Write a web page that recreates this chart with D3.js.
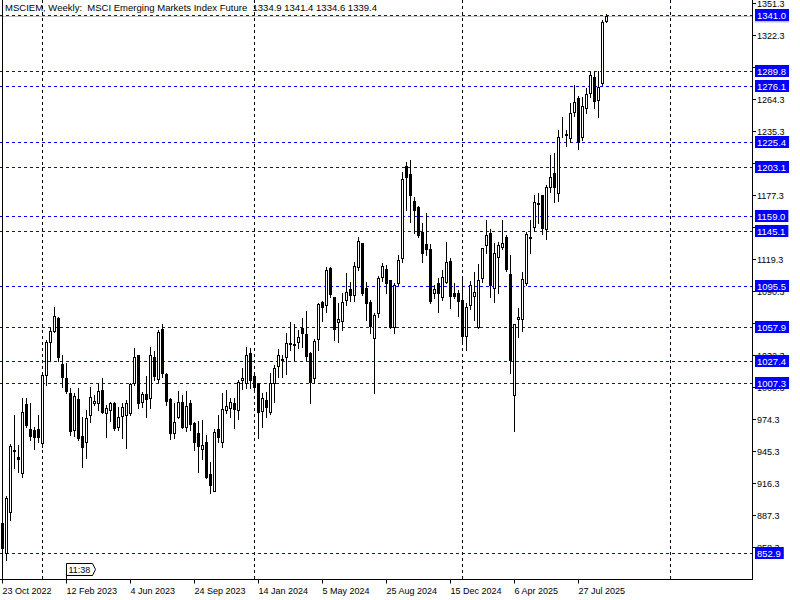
<!DOCTYPE html>
<html><head><meta charset="utf-8">
<script src="https://cdn.jsdelivr.net/npm/d3@7"></script>
<style>
html,body{margin:0;padding:0;background:#fff;}
svg{display:block;}
text{font-family:"Liberation Sans",Arial,sans-serif;}
</style></head>
<body><svg id="c" width="800" height="600"></svg>
<script>
// ---- data (weekly OHLC, MSCI EM futures) ----
const startWeek = "2022-10-23";
const openV = [880.3,853.2,890.6,946.0,939.9,926.0,988.2,965.3,964.7,965.3,952.6,1014.5,1044.7,1054.6,1065.9,1024.5,1011.5,997.9,964.7,992.5,959.2,954.0,978.2,989.4,988.9,1000.9,980.3,982.8,989.4,967.6,977.3,978.2,980.3,1007.0,1032.6,990.3,997.0,993.4,1030.5,1010.6,1055.9,1015.4,992.5,961.7,976.7,990.3,967.6,989.4,970.7,962.2,947.2,953.8,924.8,909.6,965.8,954.0,982.8,984.3,989.4,982.8,1009.9,1007.5,1034.1,1013.6,1007.0,982.1,991.8,981.2,1007.5,1022.6,1028.1,1030.5,1043.2,1042.3,1044.1,1056.8,1051.4,1034.1,1011.5,1046.8,1080.4,1077.9,1111.2,1084.9,1062.3,1063.7,1082.5,1092.2,1087.0,1112.1,1133.8,1093.1,1080.4,1047.7,1070.4,1103.0,1110.3,1100.6,1058.3,1097.6,1120.2,1203.9,1196.7,1172.4,1167.0,1144.4,1133.2,1128.4,1089.1,1097.6,1084.9,1099.0,1118.1,1089.1,1089.1,1082.5,1050.1,1078.0,1086.1,1057.7,1102.1,1132.4,1142.9,1093.1,1121.2,1130.8,1139.3,1106.0,996.4,1065.2,1065.0,1097.6,1138.3,1148.3,1170.1,1177.6,1146.5,1185.1,1197.3,1179.7,1233.0,1232.7,1229.0,1253.1,1265.2,1229.9,1256.2,1270.3,1284.2,1263.7,1279.4,1334.9];
const highV = [883.1,904.8,951.9,978.2,951.0,993.4,993.4,988.9,967.6,978.2,1015.0,1046.2,1056.8,1076.4,1067.3,1032.6,1025.6,1002.4,997.9,1002.4,976.7,982.8,1003.3,996.4,1007.5,1011.5,987.3,990.3,990.3,985.8,988.9,991.8,1007.5,1038.7,1033.0,999.4,1013.6,1040.1,1036.5,1055.3,1060.7,1015.9,993.4,989.4,1000.3,996.4,1000.3,991.8,972.2,973.1,973.7,960.1,935.6,965.3,978.2,997.9,1000.9,993.4,993.4,1010.0,1020.6,1040.1,1038.7,1015.0,1007.5,998.5,999.4,1016.0,1023.6,1037.8,1032.6,1052.3,1062.8,1060.7,1055.3,1065.9,1072.5,1035.6,1046.8,1080.0,1081.8,1112.1,1112.6,1085.5,1079.5,1088.5,1107.2,1099.0,1117.2,1139.3,1134.5,1099.0,1082.5,1070.9,1104.2,1115.7,1114.2,1101.0,1098.1,1123.2,1198.7,1207.8,1209.3,1176.1,1167.6,1152.0,1161.6,1132.9,1096.1,1102.1,1109.6,1135.3,1120.2,1098.1,1091.5,1102.1,1079.5,1100.0,1108.1,1115.1,1129.8,1155.0,1146.5,1134.4,1134.8,1155.0,1141.4,1123.2,1061.0,1074.9,1108.1,1144.4,1155.0,1177.6,1179.1,1178.0,1186.7,1213.9,1215.4,1236.5,1248.0,1236.5,1260.7,1277.3,1267.3,1266.7,1274.3,1289.3,1290.2,1290.2,1336.2,1341.4];
const lowV = [853.0,846.8,883.1,930.0,926.9,921.8,967.6,955.6,947.2,954.0,949.5,1005.4,1028.1,1053.7,1027.4,1003.9,997.9,960.1,959.5,955.6,931.4,939.0,972.2,987.3,982.8,980.3,958.6,973.1,964.7,964.7,957.1,948.1,978.2,1005.4,984.3,985.8,976.7,984.3,1009.9,1008.4,1012.4,987.3,956.2,957.1,975.2,966.2,964.0,964.7,946.5,926.9,938.1,921.3,907.8,909.0,954.0,949.5,979.8,976.1,966.2,974.3,1001.5,1002.4,1002.4,1000.0,957.1,967.1,976.7,979.2,990.3,1013.0,1013.0,1015.4,1037.1,1028.1,1038.7,1040.1,1028.1,988.9,1007.0,1037.1,1063.7,1071.9,1085.4,1046.2,1044.7,1055.3,1077.9,1081.8,1081.8,1109.6,1087.0,1064.3,1052.9,997.9,1067.3,1099.9,1089.1,1056.8,1052.3,1096.1,1117.2,1164.0,1153.4,1143.5,1139.3,1117.2,1123.2,1080.0,1084.0,1071.9,1082.5,1097.6,1074.9,1084.0,1068.0,1045.6,1037.1,1074.0,1064.3,1056.8,1099.0,1125.3,1084.9,1081.0,1088.5,1128.4,1109.0,1016.6,964.0,1049.2,1054.7,1096.1,1125.3,1145.3,1152.0,1142.3,1137.5,1180.6,1171.5,1172.4,1230.5,1222.0,1226.0,1249.2,1219.0,1227.4,1252.2,1266.7,1256.2,1248.6,1277.3,1334.6];
const closeV = [857.7,903.0,950.1,946.8,938.1,981.2,969.2,959.5,958.6,958.0,1014.5,1044.7,1054.6,1068.0,1031.1,1012.4,1000.3,964.0,995.5,957.1,949.0,975.2,994.3,991.2,1000.3,981.2,984.3,988.9,966.2,976.7,985.8,989.4,1006.3,1031.1,988.9,997.0,992.5,1032.6,1013.6,1053.7,1016.6,991.2,961.7,972.2,990.3,967.6,986.4,970.1,954.0,950.4,951.0,921.8,914.5,962.6,958.6,983.4,986.4,990.3,983.4,1008.4,1011.5,1032.6,1010.0,1003.3,981.2,993.4,985.8,1007.5,1020.6,1032.6,1028.7,1043.8,1042.3,1041.4,1048.7,1052.3,1031.7,1008.4,1045.6,1078.8,1076.4,1109.6,1087.6,1055.9,1064.9,1081.0,1090.0,1087.0,1113.3,1136.2,1089.1,1079.5,1059.2,1068.9,1102.7,1113.3,1098.1,1058.3,1096.1,1118.7,1191.8,1194.2,1177.6,1164.0,1141.4,1125.3,1128.4,1081.8,1092.2,1089.1,1103.6,1117.2,1086.3,1086.3,1081.8,1050.1,1076.4,1096.1,1089.4,1100.6,1129.3,1141.4,1096.1,1124.8,1132.3,1133.8,1110.3,1028.1,1060.4,1066.6,1101.2,1142.3,1139.2,1171.5,1169.2,1147.4,1185.1,1194.2,1184.6,1229.9,1233.3,1232.0,1252.2,1262.2,1225.9,1258.3,1268.9,1286.3,1263.1,1275.2,1334.7,1339.4];
const levelLines = [1341.0,1289.8,1276.1,1225.4,1203.1,1159.0,1145.1,1095.5,1057.9,1027.4,1007.3,852.9];
const yTickLabels = ["1351.3","1322.3","1293.3","1264.3","1235.3","1206.3","1177.3","1148.3","1119.3","1090.3","1061.3","1032.3","1003.3","974.3","945.3","916.3","887.3","858.3"];
const xTickDates = ["2022-10-23","2023-02-12","2023-06-04","2023-09-24","2024-01-14","2024-05-05","2024-08-25","2024-12-15","2025-04-06","2025-07-27"];
const yearGridDates = ["2023-01-01","2024-01-07","2025-01-05","2026-01-04"];
const titleText = "MSCIEM, Weekly:  MSCI Emerging Markets Index Future  1334.9 1341.4 1334.6 1339.4";
const timerText = "11:38";

// ---- build ----
const svg = d3.select("#c");
const parse = d3.utcParse("%Y-%m-%d");
const t0 = parse(startWeek);
const bars = openV.map((o,i)=>({date:d3.utcDay.offset(t0,7*i),o,h:highV[i],l:lowV[i],c:closeV[i]}));
const plotR = 752, plotB = 579;

const x = d3.scaleUtc().domain([t0, bars[bars.length-1].date]).range([2, 2+4*(bars.length-1)]);
const y = d3.scaleLinear().domain([852.9,1341.0]).range([553.3,14.7]);
const px = v => Math.round(v)+0.5;

const plot = svg.append("g");

// vertical year grid
plot.selectAll("line.vg").data(yearGridDates).join("line")
  .attr("x1",d=>px(x(parse(d)))).attr("x2",d=>px(x(parse(d))))
  .attr("y1",0).attr("y2",plotB)
  .attr("stroke","#000").attr("stroke-width",1).attr("stroke-dasharray","3,3");

// bid line
const lastClose = closeV[closeV.length-1];
plot.append("line").attr("x1",0).attr("x2",plotR).attr("y1",px(y(lastClose))).attr("y2",px(y(lastClose)))
  .attr("stroke","#c0c0c0").attr("stroke-width",1);

// level lines
plot.selectAll("line.lv").data(levelLines).join("line")
  .attr("x1",0).attr("x2",plotR)
  .attr("y1",d=>px(y(d))).attr("y2",d=>px(y(d)))
  .attr("stroke","#0000ff").attr("stroke-width",1).attr("stroke-dasharray","3,3");

// candles
const cg = plot.append("g");
cg.selectAll("line.w").data(bars).join("line")
  .attr("x1",d=>px(x(d.date))).attr("x2",d=>px(x(d.date)))
  .attr("y1",d=>Math.round(y(d.h))).attr("y2",d=>Math.round(y(d.l))+1)
  .attr("stroke","#000").attr("stroke-width",1);
cg.selectAll("rect").data(bars).join("rect")
  .attr("x",d=>px(x(d.date))-1).attr("width",2)
  .attr("y",d=>px(y(Math.max(d.o,d.c))))
  .attr("height",d=>Math.max(0, Math.round(y(Math.min(d.o,d.c)))-Math.round(y(Math.max(d.o,d.c)))))
  .attr("fill",d=>d.c>=d.o?"#fff":"#000").attr("stroke","#000").attr("stroke-width",1);

// left frame
svg.append("line").attr("x1",2.5).attr("x2",2.5).attr("y1",0).attr("y2",plotB).attr("stroke","#000");

// right axis
const yAxis = svg.append("g");
yAxis.append("line").attr("x1",plotR+0.5).attr("x2",plotR+0.5).attr("y1",0).attr("y2",plotB+0.5).attr("stroke","#000");
const yt = yAxis.selectAll("g.t").data(yTickLabels).join("g").attr("transform",d=>`translate(0,${px(y(+d))})`);
yt.append("line").attr("x1",plotR).attr("x2",plotR+4).attr("stroke","#000");
yt.append("text").attr("x",plotR+5).attr("y",3.5).attr("font-size","9px").attr("fill","#000").text(d=>d);

// bid label (mostly hidden)
yAxis.append("rect").attr("x",plotR+3).attr("y",y(lastClose)-6).attr("width",34).attr("height",12).attr("fill","#c0c0c0");

// level labels
const lg = yAxis.selectAll("g.lv").data(levelLines).join("g").attr("transform",d=>`translate(0,${Math.round(y(d))})`);
lg.each(function(d){
  const g = d3.select(this);
  const txt = g.append("text").attr("x",plotR+5).attr("y",4).attr("font-size","9.5px").attr("fill","#fff").text(d3.format(".1f")(d));
  const w = txt.node().getComputedTextLength();
  g.insert("rect","text").attr("x",plotR+3).attr("y",-6).attr("width",w+5).attr("height",12).attr("fill","#0000ff");
});

// bottom axis
const xAxis = svg.append("g").attr("transform",`translate(0,${plotB+0.5})`);
xAxis.append("line").attr("x1",0).attr("x2",plotR+1).attr("stroke","#000");
const fmt = d3.utcFormat("%-d %b %Y");
const xt = xAxis.selectAll("g.t").data(xTickDates).join("g").attr("transform",d=>`translate(${px(x(parse(d)))},0)`);
xt.append("line").attr("y1",0).attr("y2",4).attr("stroke","#000");
xt.append("text").attr("x",0).attr("y",14).attr("font-size","9px").attr("fill","#000").text(d=>fmt(parse(d)));

// timer label
const tx = px(x(parse(xTickDates[1])));
svg.append("path").attr("d",`M${tx},${plotB}V563.5H${tx+26}L${tx+29},569.5L${tx+26},575.5H${tx}`)
  .attr("fill","#fff").attr("stroke","#000").attr("stroke-width",1);
svg.append("text").attr("x",tx+2).attr("y",573).attr("font-size","9px").text(timerText);

// title
svg.append("text").attr("x",5).attr("y",11).attr("font-size","9.5px").attr("fill","#000")
  .style("white-space","pre").attr("textLength",372).attr("lengthAdjust","spacing").text(titleText);
</script></body></html>
